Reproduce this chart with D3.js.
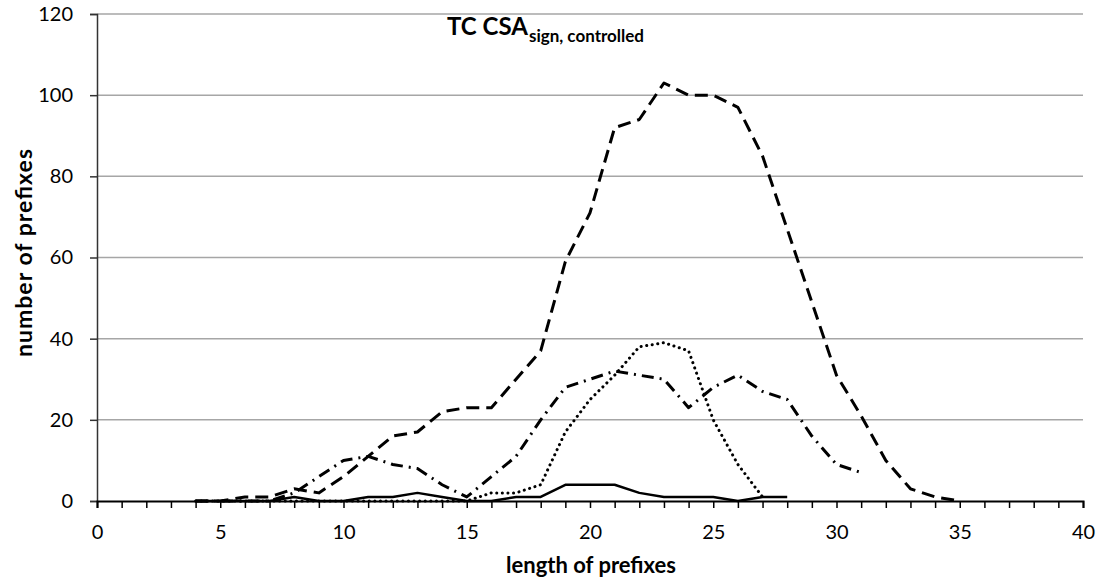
<!DOCTYPE html>
<html><head><meta charset="utf-8">
<script src="https://cdn.jsdelivr.net/npm/d3@7"></script>
<style>
html,body{margin:0;padding:0;background:#fff;}
svg{display:block;font-family:Lato, "Open Sans", sans-serif;}
</style></head>
<body>
<svg id="chart" width="1108" height="584"></svg>
<script>
// Data (length of prefix -> number of prefixes)
const xStart = 4;
const seriesDashed  = [0,0,1,1,3,2,6,11,16,17,22,23,23,30,37,59,71,92,94,103,100,100,97,85,67,49,31,21,10,3,1,0]; // x 4..35
const seriesDashDot = [0,0,0,0,2,6,10,11,9,8,4,1,6,11,20,28,30,32,31,30,23,28,31,27,25,16,9,7]; // x 4..31
const seriesDotted  = [0,0,0,0,0,0,0,0,0,0,0,0,2,2,4,17,25,31,38,39,37,20,9,1]; // x 4..27
const seriesSolid   = [0,0,0,0,1,0,0,1,1,2,1,0,0,1,1,4,4,4,2,1,1,1,0,1,1]; // x 4..28
const yTicks = [0,20,40,60,80,100,120];
const xLabelTicks = [0,5,10,15,20,25,30,35,40];
const titleMain = "TC CSA";
const titleSub = "sign, controlled";
const xTitle = "length of prefixes";
const yTitle = "number of prefixes";

const svg = d3.select("#chart");
const x = d3.scaleLinear().domain([0,40]).range([97,1083]);
const y = d3.scaleLinear().domain([0,120]).range([501,14]);

// gridlines
svg.append("g").selectAll("line").data(yTicks.filter(d=>d>0)).join("line")
  .attr("x1", x(0)).attr("x2", x(40))
  .attr("y1", d=>y(d)).attr("y2", d=>y(d))
  .attr("stroke", "#a6a6a6").attr("stroke-width", 1.5);

// y axis
const yAxis = d3.axisLeft(y).tickValues(yTicks).tickSize(7).tickPadding(17).tickFormat(d3.format("d"));
const gy = svg.append("g").attr("transform", `translate(${x(0)},0)`).call(yAxis);
gy.select(".domain").attr("stroke", "#333").attr("stroke-width", 1.5);
gy.selectAll(".tick line").attr("stroke", "#333").attr("stroke-width", 1.5);
gy.selectAll("text").attr("font-size", 20).attr("fill", "#000").attr("font-family", "Lato");

// x axis
const xAxis = d3.axisBottom(x).tickValues(d3.range(0,41)).tickSize(7).tickPadding(17)
  .tickFormat(d => xLabelTicks.includes(d) ? d : "");
const gx = svg.append("g").attr("transform", `translate(0,${y(0)})`).call(xAxis);
gx.select(".domain").attr("stroke", "#000").attr("stroke-width", 2);
gx.selectAll(".tick line").attr("stroke", "#000").attr("stroke-width", 1.5);
gx.selectAll("text").attr("font-size", 20).attr("fill", "#000").attr("font-family", "Lato");

// lines
const line = d3.line().x((d,i)=>x(xStart+i)).y(d=>y(d));
const styles = [
  {data: seriesDotted,  dash: "0.1,5.5", width: 3, cap: "round"},
  {data: seriesDashDot, dash: "12,6,2,6", width: 3, cap: "butt"},
  {data: seriesDashed,  dash: "13,7", width: 3, cap: "butt"},
  {data: seriesSolid,   dash: null, width: 2.5, cap: "butt"}
];
styles.forEach(s => {
  const p = svg.append("path").datum(s.data)
    .attr("d", line)
    .attr("fill", "none").attr("stroke", "#000")
    .attr("stroke-width", s.width).attr("stroke-linejoin", "round")
    .attr("stroke-linecap", s.cap);
  if (s.dash) p.attr("stroke-dasharray", s.dash);
});

// title
const t = svg.append("text").attr("x", 447).attr("y", 35)
  .attr("font-weight", "bold").attr("font-size", 24).attr("fill", "#000");
t.append("tspan").text(titleMain);
t.append("tspan").attr("font-size", 17).attr("dy", 7).attr("dx", 1).text(titleSub);

// axis titles
svg.append("text").attr("x", 591).attr("y", 573).attr("text-anchor", "middle")
  .attr("font-weight", "bold").attr("font-size", 22).attr("fill", "#000").text(xTitle);
svg.append("text").attr("transform", "translate(32,253) rotate(-90)").attr("text-anchor", "middle")
  .attr("font-weight", "bold").attr("font-size", 23).attr("fill", "#000")
  .attr("textLength", 208).attr("lengthAdjust", "spacing").text(yTitle);
</script>
</body></html>
